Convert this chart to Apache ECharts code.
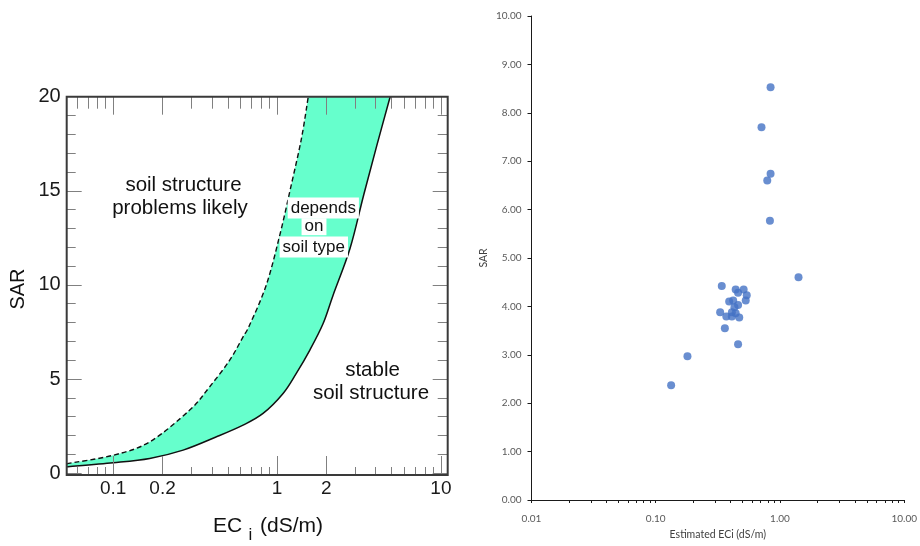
<!DOCTYPE html>
<html><head><meta charset="utf-8">
<script src="https://cdn.jsdelivr.net/npm/echarts@6/dist/echarts.min.js"></script>
<style>html,body{margin:0;padding:0;background:#fff}#c{width:920px;height:546px}</style>
</head><body><div id="c"></div>
<script>
// ---- Left panel: boundaries of the "depends on soil type" band ----
const upperEC  = [0.052, 0.1, 0.167, 0.293, 0.388, 0.514, 0.62, 0.68, 0.86, 1.04, 1.22, 1.41, 1.55];
const upperSAR = [0.5, 0.95, 1.66, 3.35, 4.59, 6.0, 7.24, 7.87, 10.0, 12.66, 15.3, 17.8, 20];
const lowerEC  = [0.052, 0.1, 0.167, 0.267, 0.427, 0.62, 0.821, 1.088, 1.31, 1.585, 1.91, 2.2, 2.79, 3.36, 4.06, 4.9];
const lowerSAR = [0.34, 0.55, 0.78, 1.22, 1.93, 2.55, 3.17, 4.23, 5.3, 6.54, 7.95, 9.47, 11.95, 14.7, 17.4, 20];
const leftXLabels = [0.1, 0.2, 1, 2, 10];
const leftXMinor  = [0.06, 0.07, 0.08, 0.09, 0.3, 0.4, 0.5, 0.6, 0.7, 0.8, 0.9, 3, 4, 5, 6, 7, 8, 9];
const leftYLabels = [0, 5, 10, 15, 20];
const leftYMinor  = [1, 2, 3, 4, 6, 7, 8, 9, 11, 12, 13, 14, 16, 17, 18, 19];

// ---- Right panel: scatter of estimated ECi vs SAR ----
const estECi = [0.84, 0.71, 0.84, 0.79, 0.83, 1.41, 0.34, 0.44, 0.51, 0.46, 0.54, 0.53, 0.39, 0.42,
                0.46, 0.43, 0.33, 0.41, 0.44, 0.37, 0.41, 0.47, 0.36, 0.46, 0.18, 0.133];
const sarVals = [8.53, 7.70, 6.74, 6.60, 5.77, 4.60, 4.42, 4.35, 4.35, 4.28, 4.23, 4.12, 4.10, 4.12,
                 4.03, 3.98, 3.88, 3.88, 3.86, 3.79, 3.79, 3.77, 3.55, 3.22, 2.97, 2.37];
const rightXLabels = [0.01, 0.1, 1, 10];
const rightXTicks = [0.01,0.02,0.03,0.04,0.05,0.06,0.07,0.08,0.09,0.1,0.2,0.3,0.4,0.5,0.6,0.7,0.8,0.9,
                     1,2,3,4,5,6,7,8,9,10];

const LF = 'Liberation Sans, Arial, sans-serif';
const RF = 'Lato, Open Sans, sans-serif';

function segs(pts) {
  let d = '';
  for (let i = 0; i < pts.length - 1; i++) {
    const p0 = pts[i - 1] || pts[i], p1 = pts[i], p2 = pts[i + 1], p3 = pts[i + 2] || p2;
    const c1 = [p1[0] + (p2[0] - p0[0]) / 6, p1[1] + (p2[1] - p0[1]) / 6];
    const c2 = [p2[0] - (p3[0] - p1[0]) / 6, p2[1] - (p3[1] - p1[1]) / 6];
    d += ' C' + c1[0] + ' ' + c1[1] + ' ' + c2[0] + ' ' + c2[1] + ' ' + p2[0] + ' ' + p2[1];
  }
  return d;
}

const tickStyle = {color: '#808080', width: 1};
function lx(pos, vals, len, labels) {
  return {type: 'log', gridIndex: 0, position: pos, min: 0.052, max: 11, z: 5,
    axisLine: {show: false, onZero: false}, splitLine: {show: false},
    axisTick: {show: true, inside: true, length: len, customValues: vals, lineStyle: tickStyle},
    axisLabel: labels ? {show: true, customValues: labels, margin: 4, fontFamily: LF, fontSize: 19, color: '#1a1a1a'} : {show: false}};
}
function ly(pos, vals, len, labels) {
  return {type: 'value', gridIndex: 0, position: pos, min: -0.1, max: 20, z: 5,
    axisLine: {show: false, onZero: false}, splitLine: {show: false},
    axisTick: {show: true, inside: true, length: len, customValues: vals, lineStyle: tickStyle},
    axisLabel: labels ? {show: true, customValues: labels, margin: 6, fontFamily: LF, fontSize: 20, color: '#1a1a1a'} : {show: false}};
}

const chart = echarts.init(document.getElementById('c'), null, {renderer: 'canvas'});
chart.setOption({
  animation: false,
  backgroundColor: '#fff',
  grid: [
    {left: 66.7, top: 96.7, width: 381, height: 378.3, show: true, borderColor: '#3a3a3a', borderWidth: 2, z: 6, backgroundColor: 'transparent'},
    {left: 531.5, top: 16, width: 373.5, height: 484}
  ],
  xAxis: [
    lx('bottom', leftXMinor, 8, leftXLabels),
    lx('bottom', leftXLabels, 19),
    lx('top', leftXMinor, 12),
    lx('top', leftXLabels, 18),
    {type: 'log', gridIndex: 1, min: 0.01, max: 10, position: 'bottom',
     axisLine: {show: true, onZero: false, lineStyle: {color: '#1a1a1a', width: 1}},
     axisTick: {show: true, customValues: rightXTicks, length: 3, lineStyle: {color: '#1a1a1a'}},
     splitLine: {show: false},
     axisLabel: {customValues: rightXLabels, margin: 14, fontFamily: RF, fontSize: 10, color: '#595959',
                 formatter: v => Number(v).toFixed(2)},
     name: 'Estimated ECi (dS/m)', nameLocation: 'middle', nameGap: 29,
     nameTextStyle: {fontFamily: RF, fontSize: 10.5, color: '#404040'}}
  ],
  yAxis: [
    ly('left', leftYMinor, 9, leftYLabels),
    ly('left', leftYLabels, 15),
    ly('right', leftYMinor, 10),
    ly('right', leftYLabels, 15),
    {type: 'value', gridIndex: 1, min: 0, max: 10, interval: 1,
     axisLine: {show: true, onZero: false, lineStyle: {color: '#1a1a1a', width: 1}},
     axisTick: {show: true, length: 4, lineStyle: {color: '#1a1a1a'}},
     splitLine: {show: false},
     axisLabel: {margin: 10, fontFamily: RF, fontSize: 10, color: '#595959', formatter: v => v.toFixed(2)},
     name: 'SAR', nameLocation: 'middle', nameGap: 42,
     nameTextStyle: {fontFamily: RF, fontSize: 10.5, color: '#404040'}}
  ],
  series: [
    {type: 'custom', xAxisIndex: 0, yAxisIndex: 0, data: [[1, 10]], silent: true, z: 2,
     renderItem: function (params, api) {
       const up = upperEC.map((x, i) => api.coord([x, upperSAR[i]]));
       const lo = lowerEC.map((x, i) => api.coord([x, lowerSAR[i]]));
       const loR = lo.slice().reverse();
       const band = 'M' + up[0][0] + ' ' + up[0][1] + segs(up) + ' L' + loR[0][0] + ' ' + loR[0][1] + segs(loR) + ' Z';
       const upPath = 'M' + up[0][0] + ' ' + up[0][1] + segs(up);
       const loPath = 'M' + lo[0][0] + ' ' + lo[0][1] + segs(lo);
       return {type: 'group', children: [
         {type: 'path', shape: {pathData: band}, style: {fill: '#66ffcc', stroke: null}},
         {type: 'path', shape: {pathData: upPath}, style: {fill: null, stroke: '#111', lineWidth: 1.4, lineDash: [5, 3]}},
         {type: 'path', shape: {pathData: loPath}, style: {fill: null, stroke: '#111', lineWidth: 1.5}}
       ]};
     }},
    {type: 'scatter', xAxisIndex: 4, yAxisIndex: 4, symbolSize: 8,
     itemStyle: {color: '#4472c4'},
     data: estECi.map((x, i) => [x, sarVals[i]])}
  ],
  graphic: [
    {type: 'text', x: 183.5, y: 185, z: 10, style: {text: 'soil structure', font: '20.5px ' + LF, fill: '#111', align: 'center', verticalAlign: 'middle'}},
    {type: 'text', x: 180, y: 208.5, z: 10, style: {text: 'problems likely', font: '20.5px ' + LF, fill: '#111', align: 'center', verticalAlign: 'middle'}},
    {type: 'text', x: 372.5, y: 370, z: 10, style: {text: 'stable', font: '20.5px ' + LF, fill: '#111', align: 'center', verticalAlign: 'middle'}},
    {type: 'text', x: 371, y: 393.5, z: 10, style: {text: 'soil structure', font: '20.5px ' + LF, fill: '#111', align: 'center', verticalAlign: 'middle'}},
    {type: 'text', x: 323.3, y: 208, z: 10, style: {text: 'depends', font: '17px ' + LF, fill: '#111', align: 'center', verticalAlign: 'middle', backgroundColor: '#fff', padding: [2, 3, 2, 3]}},
    {type: 'text', x: 314, y: 226.7, z: 10, style: {text: 'on', font: '17px ' + LF, fill: '#111', align: 'center', verticalAlign: 'middle', backgroundColor: '#fff', padding: [0, 3, 0, 3]}},
    {type: 'text', x: 313.8, y: 247, z: 10, style: {text: 'soil type', font: '17px ' + LF, fill: '#111', align: 'center', verticalAlign: 'middle', backgroundColor: '#fff', padding: [2, 3, 2, 3]}},
    {type: 'text', x: 18.5, y: 289, rotation: Math.PI / 2, z: 10, style: {text: 'SAR', font: '20px ' + LF, fill: '#111', align: 'center', verticalAlign: 'middle'}},
    {type: 'text', x: 213, y: 526, z: 10, style: {text: 'EC', font: '21px ' + LF, fill: '#111', align: 'left', verticalAlign: 'middle'}},
    {type: 'text', x: 250.5, y: 535, z: 10, style: {text: 'i', font: '17px ' + LF, fill: '#111', align: 'center', verticalAlign: 'middle'}},
    {type: 'text', x: 260, y: 526, z: 10, style: {text: '(dS/m)', font: '21px ' + LF, fill: '#111', align: 'left', verticalAlign: 'middle'}}
  ]
});
</script></body></html>
